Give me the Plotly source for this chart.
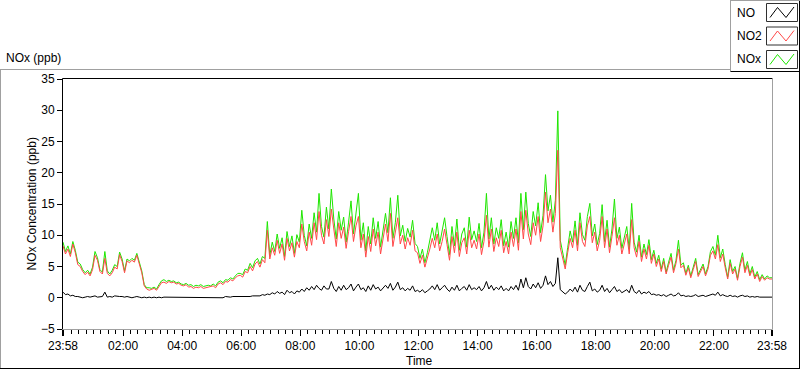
import plotly.graph_objects as go
import pandas as pd

# ---------------- data (5-minute samples, 23:58 -> 23:58 next day) ----------------
no2_ppb = [
    8.3, 7.0, 7.8, 6.6, 8.6, 7.2, 5.3, 5.0, 4.2, 3.7, 4.1, 3.5,
    4.5, 6.8, 6.0, 4.2, 3.8, 6.3, 3.9, 3.5, 4.0, 4.9, 4.6, 6.9,
    5.8, 4.0, 5.9, 5.6, 6.0, 5.7, 6.8, 5.2, 4.0, 1.9, 1.4, 1.2,
    1.3, 1.5, 1.2, 1.8, 2.4, 2.5, 2.3, 2.6, 2.4, 2.5, 2.2, 2.3,
    2.0, 1.9, 2.1, 1.7, 1.8, 1.5, 1.7, 1.6, 1.8, 1.5, 1.6, 1.7,
    1.7, 1.9, 1.6, 2.2, 2.4, 2.1, 2.6, 2.5, 2.9, 2.7, 3.2, 3.5,
    3.6, 3.3, 4.2, 4.0, 5.0, 4.3, 5.4, 5.8, 4.9, 6.1, 5.6, 10.8,
    6.2, 8.0, 6.8, 9.2, 7.1, 8.6, 6.0, 9.5, 7.5, 8.8, 6.5, 9.0,
    8.0, 11.8, 9.0, 7.5, 10.5, 8.4, 12.0, 9.3, 13.8, 10.0, 8.6, 12.5,
    9.8, 14.2, 11.0, 8.2, 12.0, 9.5, 11.3, 7.9, 10.6, 13.0, 9.0, 11.5,
    13.0, 8.0, 10.2, 6.5, 9.8, 7.4, 11.0, 8.3, 10.5, 7.0, 9.4, 11.8,
    9.0, 13.5, 8.2, 10.5, 12.8, 8.6, 10.0, 7.8, 9.6, 8.4, 10.8, 7.5,
    7.2, 5.5, 6.8, 4.9, 6.2, 7.8, 9.5, 8.0, 10.2, 7.5, 9.0, 11.0,
    8.5, 6.0, 9.8, 7.2, 10.5, 6.6, 8.8, 9.6, 7.0, 10.8, 8.0, 9.2,
    7.8, 10.2, 6.9, 9.0, 13.2, 8.1, 11.0, 7.4, 9.6, 8.2, 10.8, 7.2,
    9.0, 7.0, 10.5, 8.2, 11.0, 7.6, 13.8, 9.4, 14.0, 10.2, 8.5, 12.0,
    10.0, 13.0, 9.0, 11.5, 16.9, 12.0, 14.2, 10.5, 13.5, 23.6, 8.0, 6.2,
    4.6, 7.2, 9.5, 8.0, 10.8, 7.5, 12.0, 9.0, 8.2, 11.5, 13.0, 8.8,
    10.5, 7.5, 9.2, 13.0, 8.0, 11.0, 7.2, 9.8, 12.8, 8.4, 10.0, 7.0,
    8.5, 10.2, 7.0, 12.5, 8.0, 6.5, 9.0, 5.8, 7.8, 6.2, 8.4, 5.5,
    7.0, 5.0, 6.2, 4.2, 5.8, 3.8, 5.2, 6.5, 4.0, 5.5, 7.8, 4.8,
    5.2, 3.6, 4.8, 3.2, 4.5, 5.8, 3.4, 4.2, 5.0, 3.5, 4.6, 6.8,
    7.5, 6.2, 8.5, 5.8, 7.0, 4.8, 3.0, 5.5, 3.8, 4.6, 2.8, 5.0,
    6.5, 4.0, 5.2, 3.5, 4.5, 3.0, 3.8, 2.6, 3.4, 2.8, 3.2, 3.0,
    3.0,
]

nox_ppb = [
    8.9, 7.4, 8.3, 7.0, 9.0, 7.6, 5.7, 5.4, 4.5, 4.0, 4.4, 3.8,
    4.9, 7.4, 6.4, 4.5, 4.1, 7.4, 4.3, 3.8, 4.4, 5.3, 5.0, 7.3,
    6.2, 4.3, 6.2, 5.9, 6.3, 6.0, 7.1, 5.5, 4.3, 2.1, 1.6, 1.6,
    1.5, 1.7, 1.4, 2.1, 2.7, 2.9, 2.6, 2.8, 2.6, 2.7, 2.4, 2.5,
    2.2, 2.1, 2.3, 2.0, 2.1, 1.8, 2.0, 1.9, 2.1, 1.8, 1.9, 2.0,
    1.9, 2.2, 1.9, 2.5, 2.7, 2.4, 2.9, 2.8, 3.2, 3.0, 3.5, 3.9,
    3.9, 3.7, 4.6, 4.4, 5.5, 4.8, 5.9, 6.3, 5.4, 6.6, 6.3, 12.2,
    6.8, 8.9, 7.4, 10.2, 7.9, 9.6, 6.6, 10.6, 8.2, 9.9, 7.1, 10.1,
    8.9, 14.0, 10.0, 8.3, 11.8, 9.5, 13.6, 10.5, 16.7, 11.4, 9.7, 14.5,
    11.0, 17.4, 12.6, 9.4, 13.8, 10.8, 12.9, 8.9, 12.1, 15.5, 10.2, 13.2,
    16.7, 9.2, 12.0, 7.5, 11.4, 8.6, 12.8, 9.5, 12.2, 8.1, 10.9, 13.5,
    10.4, 16.0, 9.5, 12.0, 16.4, 9.9, 11.6, 9.0, 11.1, 9.7, 12.4, 8.7,
    8.2, 6.3, 7.8, 5.6, 7.2, 9.0, 11.2, 9.2, 12.0, 8.6, 10.5, 12.8,
    9.8, 6.9, 11.4, 8.3, 12.6, 7.6, 10.2, 11.2, 8.1, 12.9, 9.3, 10.7,
    9.0, 11.9, 8.0, 10.5, 16.7, 9.4, 12.8, 8.6, 11.2, 9.5, 12.5, 8.3,
    10.5, 8.1, 12.2, 9.5, 12.8, 8.8, 16.7, 10.9, 16.9, 11.9, 9.8, 13.8,
    11.5, 15.2, 10.4, 13.2, 19.7, 13.9, 16.4, 12.1, 15.6, 29.9, 9.2, 7.3,
    5.2, 8.0, 10.7, 8.9, 12.3, 8.4, 13.6, 10.1, 9.2, 13.0, 15.1, 9.9,
    11.8, 8.5, 10.3, 14.9, 9.0, 12.4, 8.1, 11.0, 15.8, 9.5, 11.3, 7.9,
    9.5, 11.4, 7.8, 15.1, 8.9, 7.3, 10.0, 6.5, 8.6, 6.9, 9.3, 6.1,
    7.6, 5.5, 6.8, 4.6, 6.3, 4.1, 5.7, 7.1, 4.4, 6.0, 9.2, 5.2,
    5.6, 3.9, 5.2, 3.5, 4.9, 6.3, 3.7, 4.6, 5.4, 3.8, 5.0, 7.4,
    8.2, 6.8, 10.0, 6.4, 7.8, 5.3, 3.3, 6.1, 4.2, 5.0, 3.1, 5.5,
    7.2, 4.4, 5.8, 3.8, 5.0, 3.3, 4.2, 2.9, 3.7, 3.0, 3.5, 3.2,
    3.2,
]

no_ppb = [
    0.9, 0.5, 0.6, 0.3, 0.4, 0.2, 0.2, 0.1, 0.0, 0.1, 0.2, 0.1,
    0.2, 0.3, 0.1, 0.1, 0.2, 0.9, 0.1, 0.2, 0.1, 0.3, 0.2, 0.2,
    0.2, 0.1, 0.2, 0.1, 0.0, 0.1, 0.2, 0.1, 0.0, 0.1, 0.0, 0.1,
    0.0, 0.1, 0.0, 0.1, 0.0, 0.1, 0.1, 0.0, 0.1, 0.0, 0.1, 0.0,
    0.1, 0.0, 0.1, 0.0, 0.0, 0.1, 0.0, 0.0, 0.1, 0.0, 0.0, 0.1,
    0.0, 0.1, 0.0, 0.1, 0.1, 0.0, 0.2, 0.1, 0.1, 0.2, 0.2, 0.1,
    0.1, 0.2, 0.1, 0.2, 0.2, 0.3, 0.3, 0.4, 0.3, 0.5, 0.4, 0.6,
    0.5, 0.8, 0.6, 1.0, 0.7, 0.9, 0.5, 1.2, 0.8, 1.0, 0.6, 1.1,
    0.9, 1.4, 1.0, 1.6, 1.2, 1.8, 1.3, 2.0, 1.5, 1.2, 1.9, 1.4,
    1.4, 2.6, 1.5, 1.0, 1.8, 1.2, 2.0, 1.3, 1.6, 2.2, 1.1, 1.7,
    2.2, 1.3, 1.6, 1.0, 1.9, 1.2, 2.1, 1.4, 1.7, 1.1, 1.5, 2.0,
    1.5, 2.3, 1.2, 1.7, 2.5, 1.3, 1.6, 1.1, 1.5, 1.2, 1.9, 1.0,
    1.2, 0.9, 1.3, 0.8, 1.1, 1.4, 1.9, 1.3, 2.1, 1.2, 1.6, 2.0,
    1.4, 1.0, 1.7, 1.2, 2.0, 1.1, 1.5, 1.8, 1.2, 2.1, 1.3, 1.6,
    1.3, 1.8, 1.1, 1.6, 2.6, 1.4, 2.0, 1.2, 1.7, 1.3, 1.9, 1.1,
    1.5, 1.1, 1.8, 1.3, 2.0, 1.2, 3.0, 1.6, 3.2, 1.8, 1.4, 2.2,
    1.6, 2.4, 1.5, 2.0, 3.5, 2.1, 2.6, 1.8, 2.3, 6.4, 1.3, 0.9,
    0.6, 0.9, 1.4, 1.0, 1.7, 0.9, 2.0, 1.2, 1.0, 1.8, 2.5, 1.1,
    1.4, 0.9, 1.2, 2.0, 1.0, 1.5, 0.8, 1.3, 1.8, 1.0, 1.3, 0.8,
    1.1, 1.3, 0.8, 2.0, 1.0, 0.7, 1.2, 0.6, 0.9, 0.7, 1.0, 0.5,
    0.6, 0.4, 0.5, 0.3, 0.5, 0.2, 0.4, 0.6, 0.3, 0.4, 0.8, 0.3,
    0.4, 0.2, 0.3, 0.2, 0.3, 0.5, 0.2, 0.3, 0.4, 0.2, 0.3, 0.5,
    0.6, 0.4, 0.9, 0.3, 0.5, 0.3, 0.2, 0.4, 0.2, 0.3, 0.1, 0.3,
    0.4, 0.2, 0.3, 0.1, 0.2, 0.1, 0.2, 0.1, 0.1, 0.0, 0.1, 0.1,
    0.1,
]

start_time = "2021-01-01 23:58"
end_time = "2021-01-02 23:58"
sample_step = "5min"

tick_times = ["2021-01-01 23:58", "2021-01-02 02:00", "2021-01-02 04:00",
              "2021-01-02 06:00", "2021-01-02 08:00", "2021-01-02 10:00",
              "2021-01-02 12:00", "2021-01-02 14:00", "2021-01-02 16:00",
              "2021-01-02 18:00", "2021-01-02 20:00", "2021-01-02 22:00",
              "2021-01-02 23:58"]
tick_labels = ["23:58", "02:00", "04:00", "06:00", "08:00", "10:00", "12:00",
               "14:00", "16:00", "18:00", "20:00", "22:00", "23:58"]
minor_tick0 = "2021-01-02 00:00"
minor_step_ms = 15 * 60 * 1000
y_ticks = [-5, 0, 5, 10, 15, 20, 25, 30, 35]

series_names = ["NO", "NO2", "NOx"]
series_colors = {"NO": "#000000", "NO2": "#ff4848", "NOx": "#1ee600"}

# ---------------- figure ----------------
times = pd.date_range(start_time, periods=len(no2_ppb), freq=sample_step)

FONT = "Liberation Sans, Arial, sans-serif"

fig = go.Figure()
fig.add_trace(go.Scatter(x=times, y=nox_ppb, mode="lines", name="NOx",
                         line=dict(color=series_colors["NOx"], width=1)))
fig.add_trace(go.Scatter(x=times, y=no2_ppb, mode="lines", name="NO2",
                         line=dict(color=series_colors["NO2"], width=1)))
fig.add_trace(go.Scatter(x=times, y=no_ppb, mode="lines", name="NO",
                         line=dict(color=series_colors["NO"], width=1)))

W, H = 800, 369
L, R, T, B = 63, 28, 79, 40
PW, PH = W - L - R, H - T - B


def px(x):
    return (x - L) / PW


def py(y):
    return (H - B - y) / PH


shapes = []


def seg(x0, y0, x1, y1, color, width=1):
    shapes.append(dict(type="line", xref="paper", yref="paper",
                       x0=px(x0), y0=py(y0), x1=px(x1), y1=py(y1),
                       line=dict(color=color, width=width), layer="above"))


# outer frame
seg(0, 69.5, 730.5, 69.5, "#a0a0a0")
seg(0.5, 69.5, 0.5, 368.5, "#a0a0a0")
seg(0, 368.5, 800, 368.5, "#000000")
seg(799.5, 0, 799.5, 368.5, "#000000")
# legend box
seg(730.5, 0, 730.5, 71.5, "#a0a0a0")
seg(730.5, 0.5, 800, 0.5, "#a0a0a0")
seg(730.5, 71.5, 800, 71.5, "#000000")
# plot area frame
seg(62.5, 78.5, 772.5, 78.5, "#000000")
seg(62.5, 78.5, 62.5, 329.5, "#000000")
seg(772.5, 78.5, 772.5, 329.5, "#a0a0a0")
seg(62.5, 329.5, 772.5, 329.5, "#a0a0a0")
# thicker end tick marks (as in the reference)
seg(63, 330, 63, 336, "#000000", 2)
seg(772, 330, 772, 336, "#000000", 2)

annotations = []
# legend swatches and labels
for i, name in enumerate(series_names):
    dy = i * 23.5
    shapes.append(dict(type="rect", xref="paper", yref="paper",
                       x0=px(766.5), y0=py(3.5 + dy), x1=px(797.5), y1=py(21.5 + dy),
                       line=dict(color="#303030", width=1), fillcolor="white"))
    pts = [(770, 17.5), (777.5, 7.5), (786, 17.5), (794, 7)]
    path = "M " + " L ".join(f"{px(a):.5f},{py(b + dy):.5f}" for a, b in pts)
    shapes.append(dict(type="path", xref="paper", yref="paper", path=path,
                       line=dict(color=series_colors[name], width=1)))
    annotations.append(dict(text=name, xref="paper", yref="paper",
                            x=px(735), y=py(12.5 + dy), xanchor="left", yanchor="middle",
                            showarrow=False, font=dict(family=FONT, size=12, color="black")))

annotations.append(dict(text="NOx (ppb)", xref="paper", yref="paper",
                        x=px(3.5), y=py(58), xanchor="left", yanchor="middle",
                        showarrow=False, font=dict(family=FONT, size=12, color="black")))
annotations.append(dict(text="NOx Concentration (ppb)", xref="paper", yref="paper",
                        x=px(31.5), y=py(204), xanchor="center", yanchor="middle",
                        textangle=-90, showarrow=False,
                        font=dict(family=FONT, size=12, color="black")))
annotations.append(dict(text="Time", xref="paper", yref="paper",
                        x=px(419), y=py(361), xanchor="center", yanchor="middle",
                        showarrow=False, font=dict(family=FONT, size=12, color="black")))

fig.update_layout(
    width=W, height=H,
    margin=dict(l=L, r=R, t=T, b=B),
    paper_bgcolor="white", plot_bgcolor="white",
    showlegend=False,
    hovermode=False,
    font=dict(family=FONT, size=12, color="black"),
    shapes=shapes,
    annotations=annotations,
    xaxis=dict(
        type="date", range=[start_time, end_time],
        tickmode="array", tickvals=tick_times, ticktext=tick_labels,
        ticks="outside", ticklen=6, tickwidth=1, tickcolor="black",
        showgrid=False, zeroline=False, showline=False,
        tickfont=dict(family=FONT, size=12, color="black"),
        minor=dict(tick0=minor_tick0, dtick=minor_step_ms, ticks="outside",
                   ticklen=4, tickwidth=1, tickcolor="black", showgrid=False),
    ),
    yaxis=dict(
        range=[-5, 35], tickmode="array", tickvals=y_ticks,
        ticks="outside", ticklen=5, tickwidth=1, tickcolor="black",
        showgrid=False, zeroline=False, showline=False,
        tickfont=dict(family=FONT, size=12, color="black"),
    ),
)

fig.write_html(
    "out.html",
    config={"displayModeBar": False, "staticPlot": True},
    post_script="document.body.style.margin='0px';document.body.style.padding='0px';"
                "document.body.style.overflow='hidden';",
)
